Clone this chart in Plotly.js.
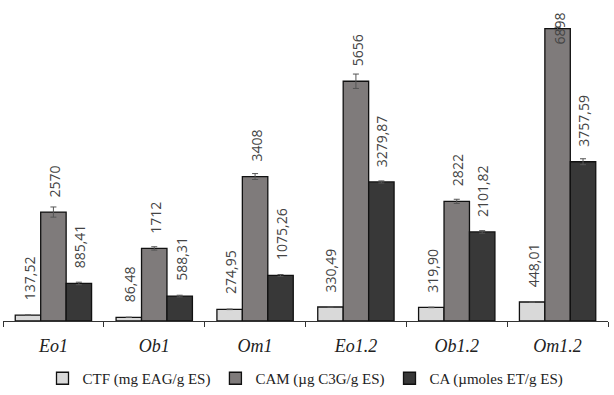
<!DOCTYPE html>
<html>
<head>
<meta charset="utf-8">
<script src="https://cdn.plot.ly/plotly-3.0.1.min.js"></script>
<style>html,body{margin:0;padding:0;background:#fff;}#chart{width:614px;height:395px;}</style>
</head>
<body>
<div id="chart"></div>
<script>
var categories = ["Eo1", "Ob1", "Om1", "Eo1.2", "Ob1.2", "Om1.2"];
var seriesNames = ["CTF (mg EAG/g ES)", "CAM (\u00b5g C3G/g ES)", "CA (\u00b5moles ET/g ES)"];
var ctfValues = [137.52, 86.48, 274.95, 330.49, 319.90, 448.01];
var camValues = [2570, 1712, 3408, 5656, 2822, 6898];
var caValues = [885.41, 588.31, 1075.26, 3279.87, 2101.82, 3757.59];
var ctfErrors = [5, 4, 6, 8, 6, 10];
var camErrors = [120, 40, 70, 170, 50, 30];
var caErrors = [30, 20, 20, 25, 30, 70];
var ctfLabels = ["137,52", "86,48", "274,95", "330,49", "319,90", "448,01"];
var camLabels = ["2570", "1712", "3408", "5656", "2822", "6898"];
var caLabels = ["885,41", "588,31", "1075,26", "3279,87", "2101,82", "3757,59"];

var colors = ["#d9d9d9", "#7f7b7b", "#383838"];
var values = [ctfValues, camValues, caValues];
var errors = [ctfErrors, camErrors, caErrors];
var labels = [ctfLabels, camLabels, caLabels];

var W = 614, H = 395;
var margin = {l: 3, r: 6, t: 0, b: 73};
var plotH = H - margin.t - margin.b;
var yMax = 7573;
var bargap = 0.243;
var barW = (1 - bargap) / 3;

var traces = values.map(function (vals, i) {
  return {
    type: "bar",
    name: seriesNames[i],
    x: categories,
    y: vals,
    marker: {color: colors[i], line: {color: "#111", width: 1.3}},
    error_y: {type: "data", array: errors[i], visible: true, color: "#555", thickness: 1, width: 3},
    hoverinfo: "none"
  };
});

var annotations = [];
values.forEach(function (vals, i) {
  vals.forEach(function (v, j) {
    var txt = labels[i][j];
    var px = v / yMax * plotH;
    var estLen = txt.length * 8.2;
    var ann = {
      xref: "x", x: j + (i - 1) * barW,
      text: txt, textangle: -90, showarrow: false,
      font: {family: "Open Sans, sans-serif", size: 14, color: "#444"},
      xanchor: "center", xshift: 1
    };
    if (px + 13 + estLen > plotH - 10) {
      ann.yref = "paper"; ann.y = 1; ann.yanchor = "top"; ann.yshift = -11;
    } else {
      ann.yref = "y"; ann.y = v; ann.yanchor = "bottom"; ann.yshift = 13;
    }
    annotations.push(ann);
  });
});

var layout = {
  width: W, height: H,
  margin: margin,
  paper_bgcolor: "#fff", plot_bgcolor: "#fff",
  barmode: "group", bargap: bargap, bargroupgap: 0,
  showlegend: true,
  legend: {
    orientation: "h", x: 0.5, xanchor: "center", y: -0.18, yanchor: "middle",
    font: {family: "Liberation Serif, serif", size: 15, color: "#222"},
    itemwidth: 30, traceorder: "normal"
  },
  xaxis: {
    type: "category",
    showline: true, linecolor: "#333", linewidth: 1,
    ticks: "outside", ticklen: 5, tickcolor: "#333", tickson: "boundaries",
    tickfont: {family: "Liberation Serif, serif", size: 18, color: "#222", style: "italic"},
    ticklabelstandoff: 8,
    showgrid: false, zeroline: false
  },
  yaxis: {
    range: [0, yMax], visible: false, showgrid: false, zeroline: false
  },
  annotations: annotations
};

Plotly.newPlot("chart", traces, layout, {staticPlot: true, displayModeBar: false});
</script>
</body>
</html>
